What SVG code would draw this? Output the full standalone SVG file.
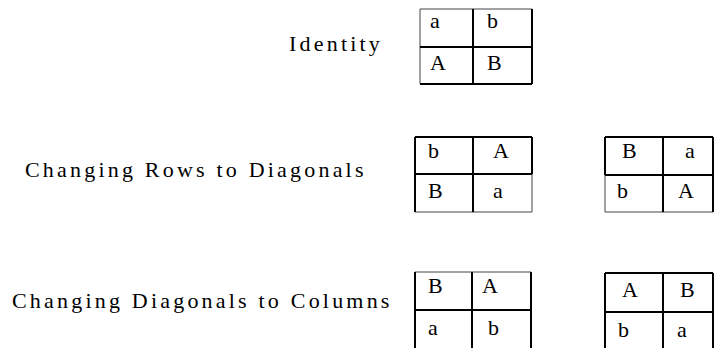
<svg xmlns="http://www.w3.org/2000/svg" width="714" height="348" viewBox="0 0 714 348">
  <rect width="714" height="348" fill="#fff"/>
  <text x="289" y="51" style="font-family: 'Liberation Serif'; font-size: 22px; letter-spacing: 3.2px">Identity</text>
  <text x="25" y="177" style="font-family: 'Liberation Serif'; font-size: 22px; letter-spacing: 3.2px">Changing Rows to Diagonals</text>
  <text x="12" y="308" style="font-family: 'Liberation Serif'; font-size: 22px; letter-spacing: 3.2px">Changing Diagonals to Columns</text>
  <text x="430" y="28" style="font-family: 'Liberation Serif'; font-size: 22px">a</text>
  <text x="487" y="28" style="font-family: 'Liberation Serif'; font-size: 22px">b</text>
  <text x="430" y="70" style="font-family: 'Liberation Serif'; font-size: 22px">A</text>
  <text x="487" y="70" style="font-family: 'Liberation Serif'; font-size: 22px">B</text>
  <text x="428" y="158" style="font-family: 'Liberation Serif'; font-size: 22px">b</text>
  <text x="493" y="158" style="font-family: 'Liberation Serif'; font-size: 22px">A</text>
  <text x="428" y="198" style="font-family: 'Liberation Serif'; font-size: 22px">B</text>
  <text x="493" y="198" style="font-family: 'Liberation Serif'; font-size: 22px">a</text>
  <text x="622" y="158" style="font-family: 'Liberation Serif'; font-size: 22px">B</text>
  <text x="685" y="158" style="font-family: 'Liberation Serif'; font-size: 22px">a</text>
  <text x="617" y="198" style="font-family: 'Liberation Serif'; font-size: 22px">b</text>
  <text x="678" y="198" style="font-family: 'Liberation Serif'; font-size: 22px">A</text>
  <text x="428" y="293" style="font-family: 'Liberation Serif'; font-size: 22px">B</text>
  <text x="482" y="293" style="font-family: 'Liberation Serif'; font-size: 22px">A</text>
  <text x="428" y="335" style="font-family: 'Liberation Serif'; font-size: 22px">a</text>
  <text x="488" y="335" style="font-family: 'Liberation Serif'; font-size: 22px">b</text>
  <text x="622" y="297" style="font-family: 'Liberation Serif'; font-size: 22px">A</text>
  <text x="680" y="297" style="font-family: 'Liberation Serif'; font-size: 22px">B</text>
  <text x="618" y="337" style="font-family: 'Liberation Serif'; font-size: 22px">b</text>
  <text x="677" y="337" style="font-family: 'Liberation Serif'; font-size: 22px">a</text>

  <!-- grid rules: thin grey edges and heavier black dividers -->
  <path stroke="#444" stroke-width="1" fill="none" d="M420 9H532 M420 9V84 M532 174V212 M415 212H532 M605 175V212 M605 212H713 M415 272H531"/>
  <path stroke="#000" stroke-width="2" fill="none" d="M420 47H532 M473 9V84 M532 9V84 M420 84H532
    M415 137H532 M415 137V212 M415 174H532 M473 137V212 M532 137V174
    M605 137H713 M605 137V175 M605 175H713 M663 137V212 M713 137V212
    M415 272V348 M415 310H531 M472 272V348 M531 272V348
    M605 273H713 M605 273V348 M605 312H713 M663 273V348 M713 273V348"/>
</svg>
